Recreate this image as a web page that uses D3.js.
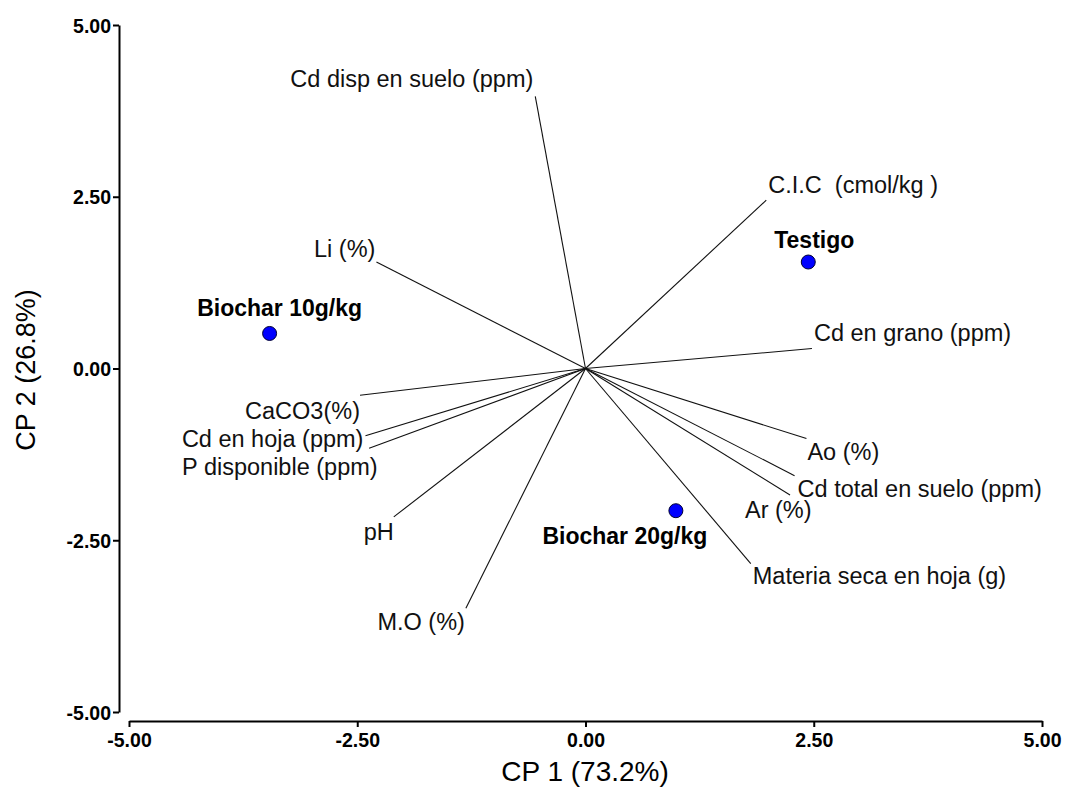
<!DOCTYPE html>
<html>
<head>
<meta charset="utf-8">
<script src="https://cdn.jsdelivr.net/npm/d3@7"></script>
<style>
  html, body { margin: 0; padding: 0; background: #fff; }
  svg { display: block; font-family: "Liberation Sans", Arial, Helvetica, sans-serif; }
  text { white-space: pre; }
</style>
</head>
<body>
<svg id="chart" width="1065" height="788"></svg>
<script>
// Biplot: variable loadings (vectors) and treatment scores (points)
const variables = [
  "Cd disp en suelo (ppm)", "Li (%)", "C.I.C  (cmol/kg )", "Cd en grano (ppm)",
  "CaCO3(%)", "Cd en hoja (ppm)", "P disponible (ppm)", "pH", "M.O (%)",
  "Ao (%)", "Cd total en suelo (ppm)", "Ar (%)", "Materia seca en hoja (g)"
];
const varCP1 = [-0.55, -2.29, 1.98, 2.48, -2.47, -2.41, -2.37, -2.10, -1.31, 2.42, 2.29, 2.24, 1.81];
const varCP2 = [ 3.96,  1.55, 2.45, 0.29, -0.39, -0.98, -1.16, -2.16, -3.49, -1.02, -1.56, -1.84, -2.84];

const treatments = ["Testigo", "Biochar 10g/kg", "Biochar 20g/kg"];
const treatCP1 = [2.44, -3.46, 0.99];
const treatCP2 = [1.55, 0.51, -2.07];

const tickValues = [-5, -2.5, 0, 2.5, 5];
const xTitle = "CP 1 (73.2%)";
const yTitle = "CP 2 (26.8%)";

// Label placement relative to each vector tip: [dx, dy, anchor]
const varLabelPos = [
  [-2, -9, "end"], [-1, -5, "end"], [2, -7, "start"], [2, -8, "start"],
  [0, 24, "end"], [-2, 11, "end"], [-187, 27, "start"], [0, 23, "end"], [-1, 22, "end"],
  [1, 21, "start"], [3, 21, "start"], [-45, 23, "start"], [2, 20, "start"]
];
const treatLabelPos = [[6, -14], [10, -17], [-51, 33]];

const svg = d3.select("#chart");
const x = d3.scaleLinear().domain([-5, 5]).range([129, 1042]);
const y = d3.scaleLinear().domain([-5, 5]).range([712, 25]);
// plain hyphen-minus for negative tick labels
const locale = d3.formatLocale({ decimal: ".", thousands: ",", grouping: [3], currency: ["$", ""], minus: "-" });
const fmt = locale.format(".2f");

// Axes (offset, Prism-style)
const xAxis = svg.append("g")
  .attr("transform", `translate(0,721)`)
  .call(d3.axisBottom(x).tickValues(tickValues).tickFormat(fmt).tickSize(6).tickSizeOuter(0));
const yAxis = svg.append("g")
  .attr("transform", `translate(119,0)`)
  .call(d3.axisLeft(y).tickValues(tickValues).tickFormat(fmt).tickSize(6).tickSizeOuter(0));

[xAxis, yAxis].forEach(g => {
  g.select(".domain").attr("stroke", "#000").attr("stroke-width", 2);
  g.selectAll(".tick line").attr("stroke", "#000").attr("stroke-width", 2);
  g.selectAll(".tick text")
    .attr("fill", "#000")
    .style("font-family", '"Liberation Sans", Arial, sans-serif')
    .style("font-size", "19.5px")
    .style("font-weight", "bold");
});
xAxis.selectAll(".tick text").attr("dy", null).attr("y", 26);
yAxis.selectAll(".tick text").attr("x", -8).attr("dy", "0.36em");

// Axis titles
svg.append("text")
  .attr("x", 585).attr("y", 781)
  .attr("text-anchor", "middle")
  .style("font-size", "28px")
  .text(xTitle);
svg.append("text")
  .attr("transform", "translate(35,370) rotate(-90)")
  .attr("text-anchor", "middle")
  .style("font-size", "27px")
  .text(yTitle);

// Variable vectors
const vars = variables.map((name, i) => ({ name, cp1: varCP1[i], cp2: varCP2[i], pos: varLabelPos[i] }));
svg.append("g").selectAll("line").data(vars).join("line")
  .attr("x1", x(0)).attr("y1", y(0))
  .attr("x2", d => x(d.cp1)).attr("y2", d => y(d.cp2))
  .attr("stroke", "#111").attr("stroke-width", 1.1);

svg.append("g").selectAll("text").data(vars).join("text")
  .attr("x", d => x(d.cp1) + d.pos[0])
  .attr("y", d => y(d.cp2) + d.pos[1])
  .attr("text-anchor", d => d.pos[2])
  .style("font-size", "23.5px")
  .attr("fill", "#111")
  .text(d => d.name);

// Treatment scores
const treats = treatments.map((name, i) => ({ name, cp1: treatCP1[i], cp2: treatCP2[i], pos: treatLabelPos[i] }));
svg.append("g").selectAll("circle").data(treats).join("circle")
  .attr("cx", d => x(d.cp1)).attr("cy", d => y(d.cp2))
  .attr("r", 7)
  .attr("fill", "#0000ff")
  .attr("stroke", "#000033").attr("stroke-width", 1);

svg.append("g").selectAll("text").data(treats).join("text")
  .attr("x", d => x(d.cp1) + d.pos[0])
  .attr("y", d => y(d.cp2) + d.pos[1])
  .attr("text-anchor", "middle")
  .style("font-size", "23px")
  .style("font-weight", "bold")
  .attr("fill", "#000")
  .text(d => d.name);
</script>
</body>
</html>
